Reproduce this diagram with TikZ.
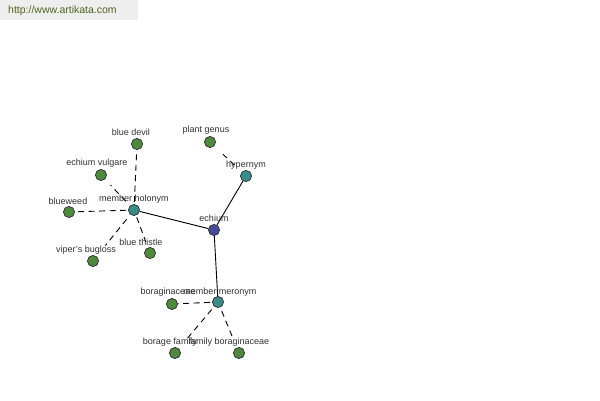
\documentclass[tikz,border=0pt]{standalone}
\usepackage{fontspec}
\setmainfont{Liberation Sans}
\definecolor{leafc}{RGB}{78,138,62}
\definecolor{hubc}{RGB}{58,140,140}
\definecolor{centc}{RGB}{74,74,155}
\definecolor{hdrc}{RGB}{238,238,238}
\definecolor{urlc}{RGB}{80,100,30}
\definecolor{lblc}{RGB}{50,50,50}
\begin{document}
\begin{tikzpicture}[x=1pt,y=-1pt,
  dot/.style={circle,draw=black!80,line width=0.6pt,minimum size=11pt,inner sep=0pt},
  leaf/.style={dot,fill=leafc},
  hub/.style={dot,fill=hubc},
  center/.style={dot,fill=centc},
  lbl/.style={font=\fontsize{9}{10}\selectfont,text=lblc,inner sep=0pt},
  solidedge/.style={draw=black,line width=0.9pt},
  dashedge/.style={draw=black,line width=0.9pt,dash pattern=on 6pt off 4.5pt}]
\useasboundingbox (0,0) rectangle (600,400);
\fill[white] (0,0) rectangle (600,400);
\fill[hdrc] (0,0) rectangle (138,20);
\node[font=\fontsize{10.5}{12}\selectfont,text=urlc,anchor=west,inner sep=0pt] (url) at (8,11) {http://www.artikata.com};
% nodes
\node[center] (echium) at (214,230) {};
\node[hub] (holo) at (134,210) {};
\node[hub] (hyper) at (246,176) {};
\node[hub] (mero) at (218,302) {};
\node[leaf] (bdevil) at (137,144) {};
\node[leaf] (evulg) at (101,175) {};
\node[leaf] (bweed) at (69,212) {};
\node[leaf] (viper) at (93,261) {};
\node[leaf] (bthistle) at (150,253) {};
\node[leaf] (pgenus) at (210,142) {};
\node[leaf] (borag) at (172,304) {};
\node[leaf] (bfam) at (175,353) {};
\node[leaf] (fborag) at (239,353) {};
% edges
\path[solidedge] (echium) -- (holo);
\path[solidedge] (echium) -- (hyper);
\path[solidedge] (echium) -- (mero);
\path[dashedge,shorten <=2pt] (holo) -- (bdevil);
\path[dashedge,shorten <=6pt,shorten >=8pt] (holo) -- (evulg);
\path[dashedge,shorten <=2pt] (holo) -- (bweed);
\path[dashedge,shorten <=6pt,shorten >=14pt] (holo) -- (viper);
\path[dashedge,shorten <=2pt,shorten >=6pt] (holo) -- (bthistle);
\path[dashedge,shorten <=10pt,shorten >=12pt] (hyper) -- (pgenus);
\path[dashedge,shorten <=2pt] (mero) -- (borag);
\path[dashedge,shorten <=4pt,shorten >=10pt] (mero) -- (bfam);
\path[dashedge,shorten <=4pt,shorten >=10pt] (mero) -- (fborag);
% redraw nodes on top
\foreach \n/\s in {echium/center,holo/hub,hyper/hub,mero/hub,bdevil/leaf,evulg/leaf,bweed/leaf,viper/leaf,bthistle/leaf,pgenus/leaf,borag/leaf,bfam/leaf,fborag/leaf}
  \node[\s] at (\n) {};
% labels
\node[lbl] (l1) at (214,218) {echium};
\node[lbl] (l2) at (134,199) {member holonym};
\node[lbl] (l3) at (246,165) {hypernym};
\node[lbl] (l4) at (220,292) {member meronym};
\node[lbl] (l5) at (131,132) {blue devil};
\node[lbl] (l6) at (97,163) {echium vulgare};
\node[lbl] (l7) at (68,201) {blueweed};
\node[lbl] (l8) at (86,250) {viper's bugloss};
\node[lbl] (l9) at (141,242) {blue thistle};
\node[lbl] (l10) at (206,130) {plant genus};
\node[lbl] (l11) at (168,292) {boraginaceae};
\node[lbl] (l12) at (170,342) {borage family};
\node[lbl] (l13) at (229,342) {family boraginaceae};
\end{tikzpicture}
\end{document}
